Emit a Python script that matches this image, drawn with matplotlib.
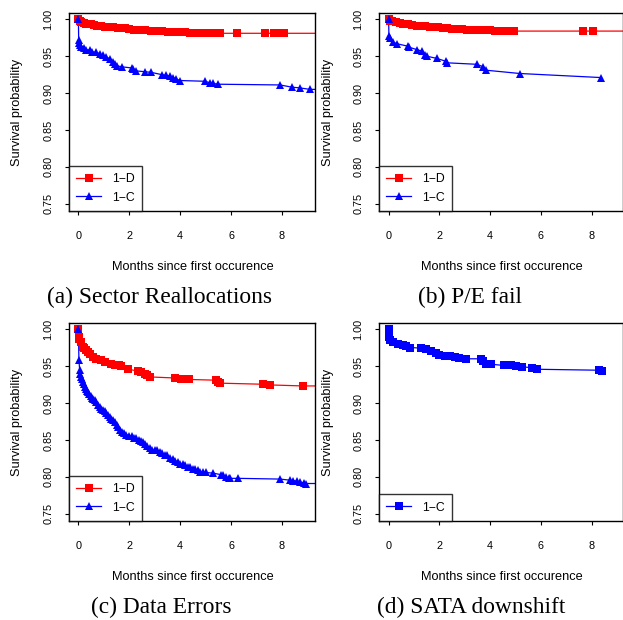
import matplotlib
matplotlib.use("Agg")
import matplotlib.pyplot as plt
from matplotlib.lines import Line2D

plt.rcParams['font.family'] = ['Liberation Sans', 'DejaVu Sans']

# ---------------- data ----------------
# (a) Sector Reallocations
a_d_x = [0, 0.05, 0.1, 0.2, 0.3, 0.4, 0.5, 0.6, 0.75, 0.9, 1.05, 1.2, 1.35, 1.55, 1.7, 1.85, 2.0, 2.2,
         2.4, 2.6, 2.85, 3.1, 3.3, 3.52, 3.75, 4.0, 4.2, 4.4, 4.6, 4.83, 5.0, 5.15, 5.3, 5.45, 5.55,
         6.23, 7.32, 7.7, 7.8, 7.9, 8.0, 8.1]
a_d_y = [1.0, 0.997, 0.996, 0.995, 0.994, 0.9935, 0.993, 0.992, 0.9915, 0.991, 0.990, 0.9895, 0.989,
         0.9885, 0.988, 0.9875, 0.987, 0.986, 0.9855, 0.985, 0.9845, 0.984, 0.9835, 0.983, 0.983,
         0.9825, 0.9825, 0.982, 0.982, 0.9815, 0.9815, 0.9812, 0.981, 0.981, 0.981, 0.981, 0.981,
         0.981, 0.981, 0.981, 0.981, 0.981]
a_c_x = [0, 0.01, 0.03, 0.06, 0.12, 0.2, 0.3, 0.44, 0.55, 0.7, 0.84, 0.95, 1.1, 1.25, 1.36, 1.43, 1.5,
         1.73, 2.1, 2.15, 2.28, 2.6, 2.87, 3.27, 3.46, 3.6, 3.72, 3.85, 3.99, 4.97, 5.17, 5.3, 5.5,
         7.93, 8.39, 8.71, 9.1]
a_c_y = [1.0, 0.972, 0.968, 0.965, 0.963, 0.961, 0.959, 0.958, 0.956, 0.955, 0.9535, 0.951, 0.949,
         0.946, 0.942, 0.939, 0.937, 0.9355, 0.934, 0.933, 0.930, 0.929, 0.928, 0.925, 0.924, 0.923,
         0.921, 0.919, 0.917, 0.916, 0.914, 0.913, 0.912, 0.911, 0.908, 0.907, 0.905]

# (b) P/E fail
b_d_x = [0, 0.05, 0.15, 0.3, 0.45, 0.58, 0.75, 0.9, 1.1, 1.3, 1.45, 1.63, 1.8, 1.95, 2.15, 2.3, 2.5,
         2.68, 2.9, 3.07, 3.25, 3.46, 3.7, 3.99, 4.2, 4.38, 4.55, 4.7, 4.85, 4.93, 7.64, 8.06]
b_d_y = [1.0, 0.998, 0.997, 0.996, 0.995, 0.994, 0.993, 0.992, 0.9915, 0.991, 0.9905, 0.990, 0.9895,
         0.989, 0.988, 0.9875, 0.987, 0.9865, 0.9865, 0.986, 0.9855, 0.985, 0.985, 0.985, 0.9845,
         0.9845, 0.984, 0.984, 0.984, 0.984, 0.984, 0.984]
b_c_x = [0, 0.01, 0.05, 0.18, 0.31, 0.77, 0.82, 1.1, 1.3, 1.43, 1.5, 1.89, 2.26, 2.3, 3.46, 3.7, 3.83,
         5.17, 8.38]
b_c_y = [1.0, 0.978, 0.974, 0.969, 0.967, 0.9634, 0.962, 0.959, 0.957, 0.952, 0.950, 0.947, 0.943,
         0.941, 0.939, 0.936, 0.931, 0.9265, 0.921]

# (c) Data Errors
c_d_x = [0, 0.02, 0.04, 0.1, 0.17, 0.22, 0.28, 0.37, 0.45, 0.56, 0.7, 0.89, 1.05, 1.28, 1.45, 1.6,
         1.68, 1.94, 2.33, 2.45, 2.6, 2.7, 2.83, 3.78, 4.04, 4.33, 5.4, 5.47, 5.55, 7.26, 7.52, 8.83]
c_d_y = [1.0, 0.990, 0.987, 0.983, 0.976, 0.974, 0.972, 0.969, 0.966, 0.9625, 0.960, 0.958, 0.956,
         0.9535, 0.952, 0.951, 0.950, 0.9458, 0.9436, 0.942, 0.940, 0.938, 0.9354, 0.934, 0.933,
         0.932, 0.931, 0.929, 0.927, 0.9255, 0.9246, 0.9232]
c_c_x = [0, 0.02, 0.05, 0.08, 0.12, 0.15, 0.18, 0.22, 0.26, 0.3, 0.34, 0.38, 0.43, 0.48, 0.53, 0.58,
         0.64, 0.7, 0.76, 0.84, 0.9, 0.96, 1.03, 1.1, 1.17, 1.23, 1.3, 1.36, 1.43, 1.5, 1.56, 1.63,
         1.7, 1.78, 1.89, 2.0, 2.1, 2.2, 2.28, 2.38, 2.46, 2.54, 2.62, 2.7, 2.8, 2.9, 3.0, 3.1, 3.2,
         3.3, 3.4, 3.5, 3.6, 3.7, 3.8, 3.9, 3.99, 4.1, 4.2, 4.3, 4.38, 4.5, 4.6, 4.7, 4.78, 4.9, 5.0,
         5.3, 5.6, 5.7, 5.8, 5.9, 5.96, 6.28, 7.93, 8.32, 8.45, 8.6, 8.71, 8.85, 8.95]
c_c_y = [1.0, 0.958, 0.9445, 0.940, 0.936, 0.932, 0.929, 0.926, 0.922, 0.919, 0.917, 0.915, 0.912,
         0.909, 0.907, 0.906, 0.904, 0.901, 0.898, 0.895, 0.892, 0.890, 0.889, 0.887, 0.884, 0.881,
         0.879, 0.877, 0.874, 0.870, 0.867, 0.863, 0.861, 0.859, 0.857, 0.856, 0.855, 0.853, 0.852,
         0.850, 0.849, 0.847, 0.845, 0.842, 0.839, 0.837, 0.836, 0.836, 0.834, 0.832, 0.830, 0.829,
         0.826, 0.824, 0.822, 0.820, 0.818, 0.817, 0.816, 0.814, 0.813, 0.811, 0.810, 0.809, 0.807,
         0.806, 0.806, 0.805, 0.803, 0.802, 0.800, 0.799, 0.798, 0.798, 0.797, 0.7955, 0.795, 0.794,
         0.793, 0.792, 0.791]

# (d) SATA downshift
d_c_x = [0, 0.01, 0.04, 0.17, 0.37, 0.56, 0.7, 0.85, 1.28, 1.48, 1.68, 1.87, 2.0, 2.2, 2.4, 2.6, 2.79,
         3.05, 3.64, 3.7, 3.83, 4.03, 4.53, 4.82, 5.0, 5.26, 5.66, 5.86, 8.29, 8.42]
d_c_y = [1.0, 0.9896, 0.985, 0.983, 0.980, 0.979, 0.9767, 0.9753, 0.9744, 0.973, 0.971, 0.9685, 0.9657,
         0.964, 0.964, 0.963, 0.9617, 0.960, 0.960, 0.957, 0.9535, 0.9526, 0.951, 0.951, 0.9498,
         0.949, 0.948, 0.9458, 0.9445, 0.9436]

captions = ["(a) Sector Reallocations", "(b) P/E fail", "(c) Data Errors", "(d) SATA downshift"]
y_ticks = [0.75, 0.80, 0.85, 0.90, 0.95, 1.00]
x_ticks = [0, 2, 4, 6, 8]

RED = '#FF0000'
BLUE = '#0000FF'
MS = 5.3

W, H = 623, 620
fig = plt.figure(figsize=(W / 100, H / 100), dpi=100)


def px_axes(l, t, r, b):
    return fig.add_axes([l / W, 1 - b / H, (r - l) / W, (b - t) / H])


def draw(ax, x, y, color, marker, extend):
    xs, ys = list(x), list(y)
    if extend:
        xs.append(ax.get_xlim()[1])
        ys.append(y[-1])
    ax.plot(xs, ys, color=color, lw=0.9, zorder=2)
    ax.plot(x, y, ls='none', marker=marker, color=color, ms=MS, mew=0, zorder=3)


def style(ax, xlim, handles):
    ax.set_xlim(*xlim)
    ax.set_ylim(0.7402, 1.0085)
    ax.set_yticks(y_ticks)
    ax.set_yticklabels([f"{v:.2f}" for v in y_ticks])
    ax.set_xticks(x_ticks)
    ax.tick_params(direction='out', length=3.2, width=0.8, labelsize=7.8, colors='black')
    ax.tick_params(axis='y', labelrotation=90, pad=8)
    ax.tick_params(axis='x', pad=11)
    for t in ax.get_yticklabels():
        t.set_va('center')
    for s in ax.spines.values():
        s.set_linewidth(1.0)
    ax.set_ylabel("Survival probability", fontsize=9.2, va='center')
    ax.yaxis.set_label_coords(-0.21, 0.5)
    ax.set_xlabel("Months since first occurence", fontsize=9.2, va='center')
    ax.xaxis.set_label_coords(0.505, -0.283)
    leg = ax.legend(handles=handles, loc='lower left', bbox_to_anchor=(0, 0), borderaxespad=0,
                    fontsize=8.8, frameon=True, fancybox=False, edgecolor='black',
                    handlelength=2.0, handletextpad=0.9, borderpad=0.6, labelspacing=0.55)
    leg.get_frame().set_linewidth(1.0)


def h(color, marker, label):
    return Line2D([], [], color=color, lw=0.9, marker=marker, ms=MS, mew=0, label=label)


# axes
ax_a = px_axes(69, 13, 315, 211)
ax_b = px_axes(379, 13, 622.5, 211)
ax_c = px_axes(69, 323, 315, 521)
ax_d = px_axes(379, 323, 622.5, 521)

xl_a = (-0.37, 9.30)
xl_b = (-0.38, 9.21)

ax_a.set_xlim(*xl_a)
draw(ax_a, a_d_x, a_d_y, RED, 's', True)
draw(ax_a, a_c_x, a_c_y, BLUE, '^', True)
style(ax_a, xl_a, [h(RED, 's', '1\u2212D'), h(BLUE, '^', '1\u2212C')])

ax_b.set_xlim(*xl_b)
draw(ax_b, b_d_x, b_d_y, RED, 's', True)
draw(ax_b, b_c_x, b_c_y, BLUE, '^', False)
style(ax_b, xl_b, [h(RED, 's', '1\u2212D'), h(BLUE, '^', '1\u2212C')])

ax_c.set_xlim(*xl_a)
draw(ax_c, c_d_x, c_d_y, RED, 's', True)
draw(ax_c, c_c_x, c_c_y, BLUE, '^', True)
style(ax_c, xl_a, [h(RED, 's', '1\u2212D'), h(BLUE, '^', '1\u2212C')])

ax_d.set_xlim(*xl_b)
draw(ax_d, d_c_x, d_c_y, BLUE, 's', False)
style(ax_d, xl_b, [h(BLUE, 's', '1\u2212C')])

cap_pos = [(160, 297), (470, 297), (161, 607), (471, 607)]
for (cx, cy), txt in zip(cap_pos, captions):
    fig.text(cx / W, 1 - cy / H, txt, ha='center', va='center',
             family=['Liberation Serif', 'DejaVu Serif'], fontsize=16.8)

fig.savefig("out.png", dpi=100)
